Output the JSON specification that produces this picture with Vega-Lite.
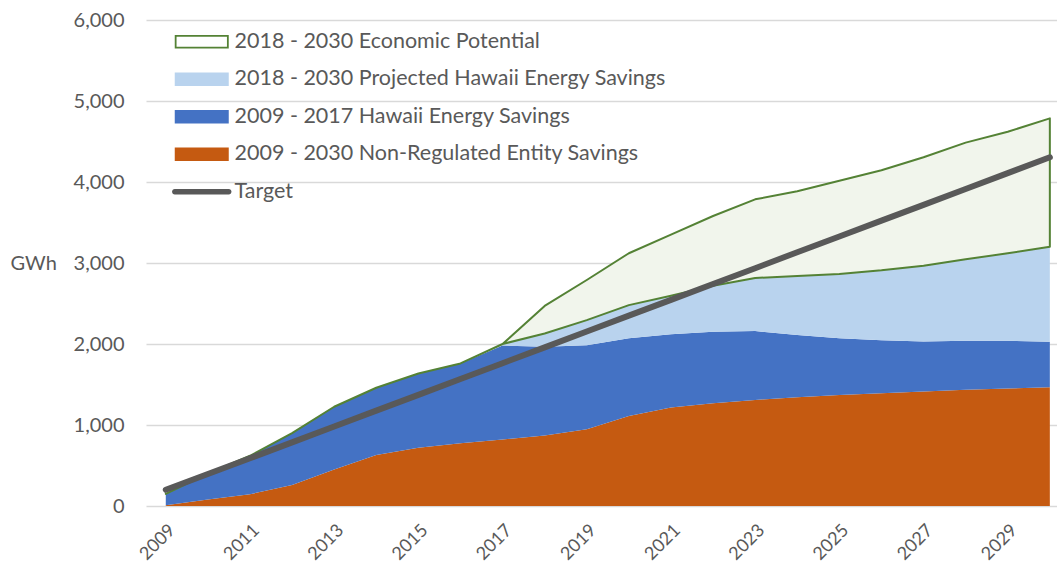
{
  "$schema": "https://vega.github.io/schema/vega-lite/v6.json",
  "width": 911,
  "height": 486,
  "autosize": "none",
  "padding": {"left": 146, "top": 20, "right": 0, "bottom": 63},
  "background": "white",
  "config": {
    "view": {"stroke": null},
    "font": "Lato",
    "axis": {"labelFont": "Lato", "titleFont": "Lato", "labelColor": "#595959", "titleColor": "#595959"}
  },
  "data": {
    "values": [
      {"year": 2009, "nonreg": 10, "he": 150, "proj": 150, "econ": 150, "target": 200},
      {"year": 2010, "nonreg": 80, "he": 400, "proj": 400, "econ": 400, "target": 395},
      {"year": 2011, "nonreg": 145, "he": 620, "proj": 620, "econ": 620, "target": 590},
      {"year": 2012, "nonreg": 260, "he": 900, "proj": 900, "econ": 900, "target": 786},
      {"year": 2013, "nonreg": 450, "he": 1225, "proj": 1225, "econ": 1225, "target": 981},
      {"year": 2014, "nonreg": 630, "he": 1460, "proj": 1460, "econ": 1460, "target": 1177},
      {"year": 2015, "nonreg": 720, "he": 1635, "proj": 1635, "econ": 1635, "target": 1372},
      {"year": 2016, "nonreg": 775, "he": 1760, "proj": 1760, "econ": 1760, "target": 1568},
      {"year": 2017, "nonreg": 820, "he": 1980, "proj": 2000, "econ": 2000, "target": 1763},
      {"year": 2018, "nonreg": 870, "he": 1965, "proj": 2130, "econ": 2470, "target": 1959},
      {"year": 2019, "nonreg": 946, "he": 1985, "proj": 2295, "econ": 2790, "target": 2154},
      {"year": 2020, "nonreg": 1112, "he": 2070, "proj": 2480, "econ": 3120, "target": 2350},
      {"year": 2021, "nonreg": 1215, "he": 2120, "proj": 2595, "econ": 3350, "target": 2545},
      {"year": 2022, "nonreg": 1270, "he": 2150, "proj": 2720, "econ": 3580, "target": 2741},
      {"year": 2023, "nonreg": 1310, "he": 2160, "proj": 2815, "econ": 3786, "target": 2936},
      {"year": 2024, "nonreg": 1342, "he": 2110, "proj": 2840, "econ": 3885, "target": 3132},
      {"year": 2025, "nonreg": 1370, "he": 2070, "proj": 2865, "econ": 4016, "target": 3327},
      {"year": 2026, "nonreg": 1392, "he": 2045, "proj": 2910, "econ": 4145, "target": 3523},
      {"year": 2027, "nonreg": 1415, "he": 2030, "proj": 2967, "econ": 4305, "target": 3718},
      {"year": 2028, "nonreg": 1435, "he": 2040, "proj": 3045, "econ": 4486, "target": 3914},
      {"year": 2029, "nonreg": 1452, "he": 2040, "proj": 3120, "econ": 4621, "target": 4109},
      {"year": 2030, "nonreg": 1465, "he": 2028, "proj": 3202, "econ": 4786, "target": 4305}
    ]
  },
  "encoding": {
    "x": {
      "field": "year", "type": "quantitative",
      "scale": {"domain": [2008.53, 2030.17], "nice": false, "zero": false},
      "axis": {
        "values": [2009, 2011, 2013, 2015, 2017, 2019, 2021, 2023, 2025, 2027, 2029],
        "format": "d", "labelAngle": -45, "labelFontSize": 18, "labelPadding": 15,
        "ticks": false, "domain": false, "grid": false, "title": null, "labelFlush": false
      }
    }
  },
  "layer": [
    {
      "mark": {"type": "area", "color": "#C55A11"},
      "encoding": {
        "y": {
          "field": "nonreg", "type": "quantitative",
          "scale": {"domain": [0, 6000], "nice": false},
          "axis": {
            "values": [0, 1000, 2000, 3000, 4000, 5000, 6000], "format": ",d",
            "labelFontSize": 20, "labelPadding": 22, "ticks": false, "domain": false,
            "gridColor": "#D9D9D9", "gridWidth": 1.3,
            "title": "GWh", "titleAngle": 0, "titleFontSize": 20, "titleFontWeight": "normal",
            "titleAlign": "left", "titleBaseline": "middle", "titleX": -136, "titleY": 243
          }
        },
        "y2": {"datum": 0},
        "color": {
          "datum": "2009 - 2030 Non-Regulated Entity Savings",
          "scale": {
            "domain": [
              "2018 - 2030 Economic Potential",
              "2018 - 2030 Projected Hawaii Energy Savings",
              "2009 - 2017 Hawaii Energy Savings",
              "2009 - 2030 Non-Regulated Entity Savings",
              "Target"
            ],
            "range": ["#548235", "#B9D3EE", "#4472C4", "#C55A11", "#595959"]
          },
          "legend": {
            "orient": "none", "legendX": 45, "legendY": 11, "title": null,
            "labelFont": "Lato", "labelFontSize": 21.5, "labelColor": "#595959", "labelLimit": 0,
            "symbolSize": 81, "symbolStrokeWidth": 0,
            "labelOffset": 22, "rowPadding": 14.5,
            "symbolType": "M-6,-1.5H6V1.5H-6Z",
            "encode": {
              "symbols": {
                "update": {
                  "shape": {"signal": "datum.value === 'Target' ? 'M-6,-0.6H6A0.6,0.6 0 0 1 6,0.6H-6A0.6,0.6 0 0 1 -6,-0.6Z' : (datum.value === '2018 - 2030 Economic Potential' ? 'M-6,-1.5H6V1.5H-6Z M-5.6,-1.1V1.1H5.6V-1.1Z' : 'M-6,-1.5H6V1.5H-6Z')"},
                  "opacity": {"value": 1}
                }
              }
            }
          }
        }
      }
    },
    {
      "mark": {"type": "area"},
      "encoding": {
        "y": {"field": "he", "type": "quantitative"},
        "y2": {"field": "nonreg"},
        "color": {"datum": "2009 - 2017 Hawaii Energy Savings"}
      }
    },
    {
      "mark": {"type": "area"},
      "encoding": {
        "y": {"field": "proj", "type": "quantitative"},
        "y2": {"field": "he"},
        "color": {"datum": "2018 - 2030 Projected Hawaii Energy Savings"}
      }
    },
    {
      "mark": {"type": "area", "fill": "#F1F5EC", "stroke": "#548235", "strokeWidth": 2, "strokeJoin": "round"},
      "encoding": {
        "y": {"field": "econ", "type": "quantitative"},
        "y2": {"field": "proj"}
      }
    },
    {
      "mark": {"type": "line", "strokeWidth": 6, "strokeCap": "round"},
      "encoding": {
        "y": {"field": "target", "type": "quantitative"},
        "color": {"datum": "Target"}
      }
    }
  ]
}
